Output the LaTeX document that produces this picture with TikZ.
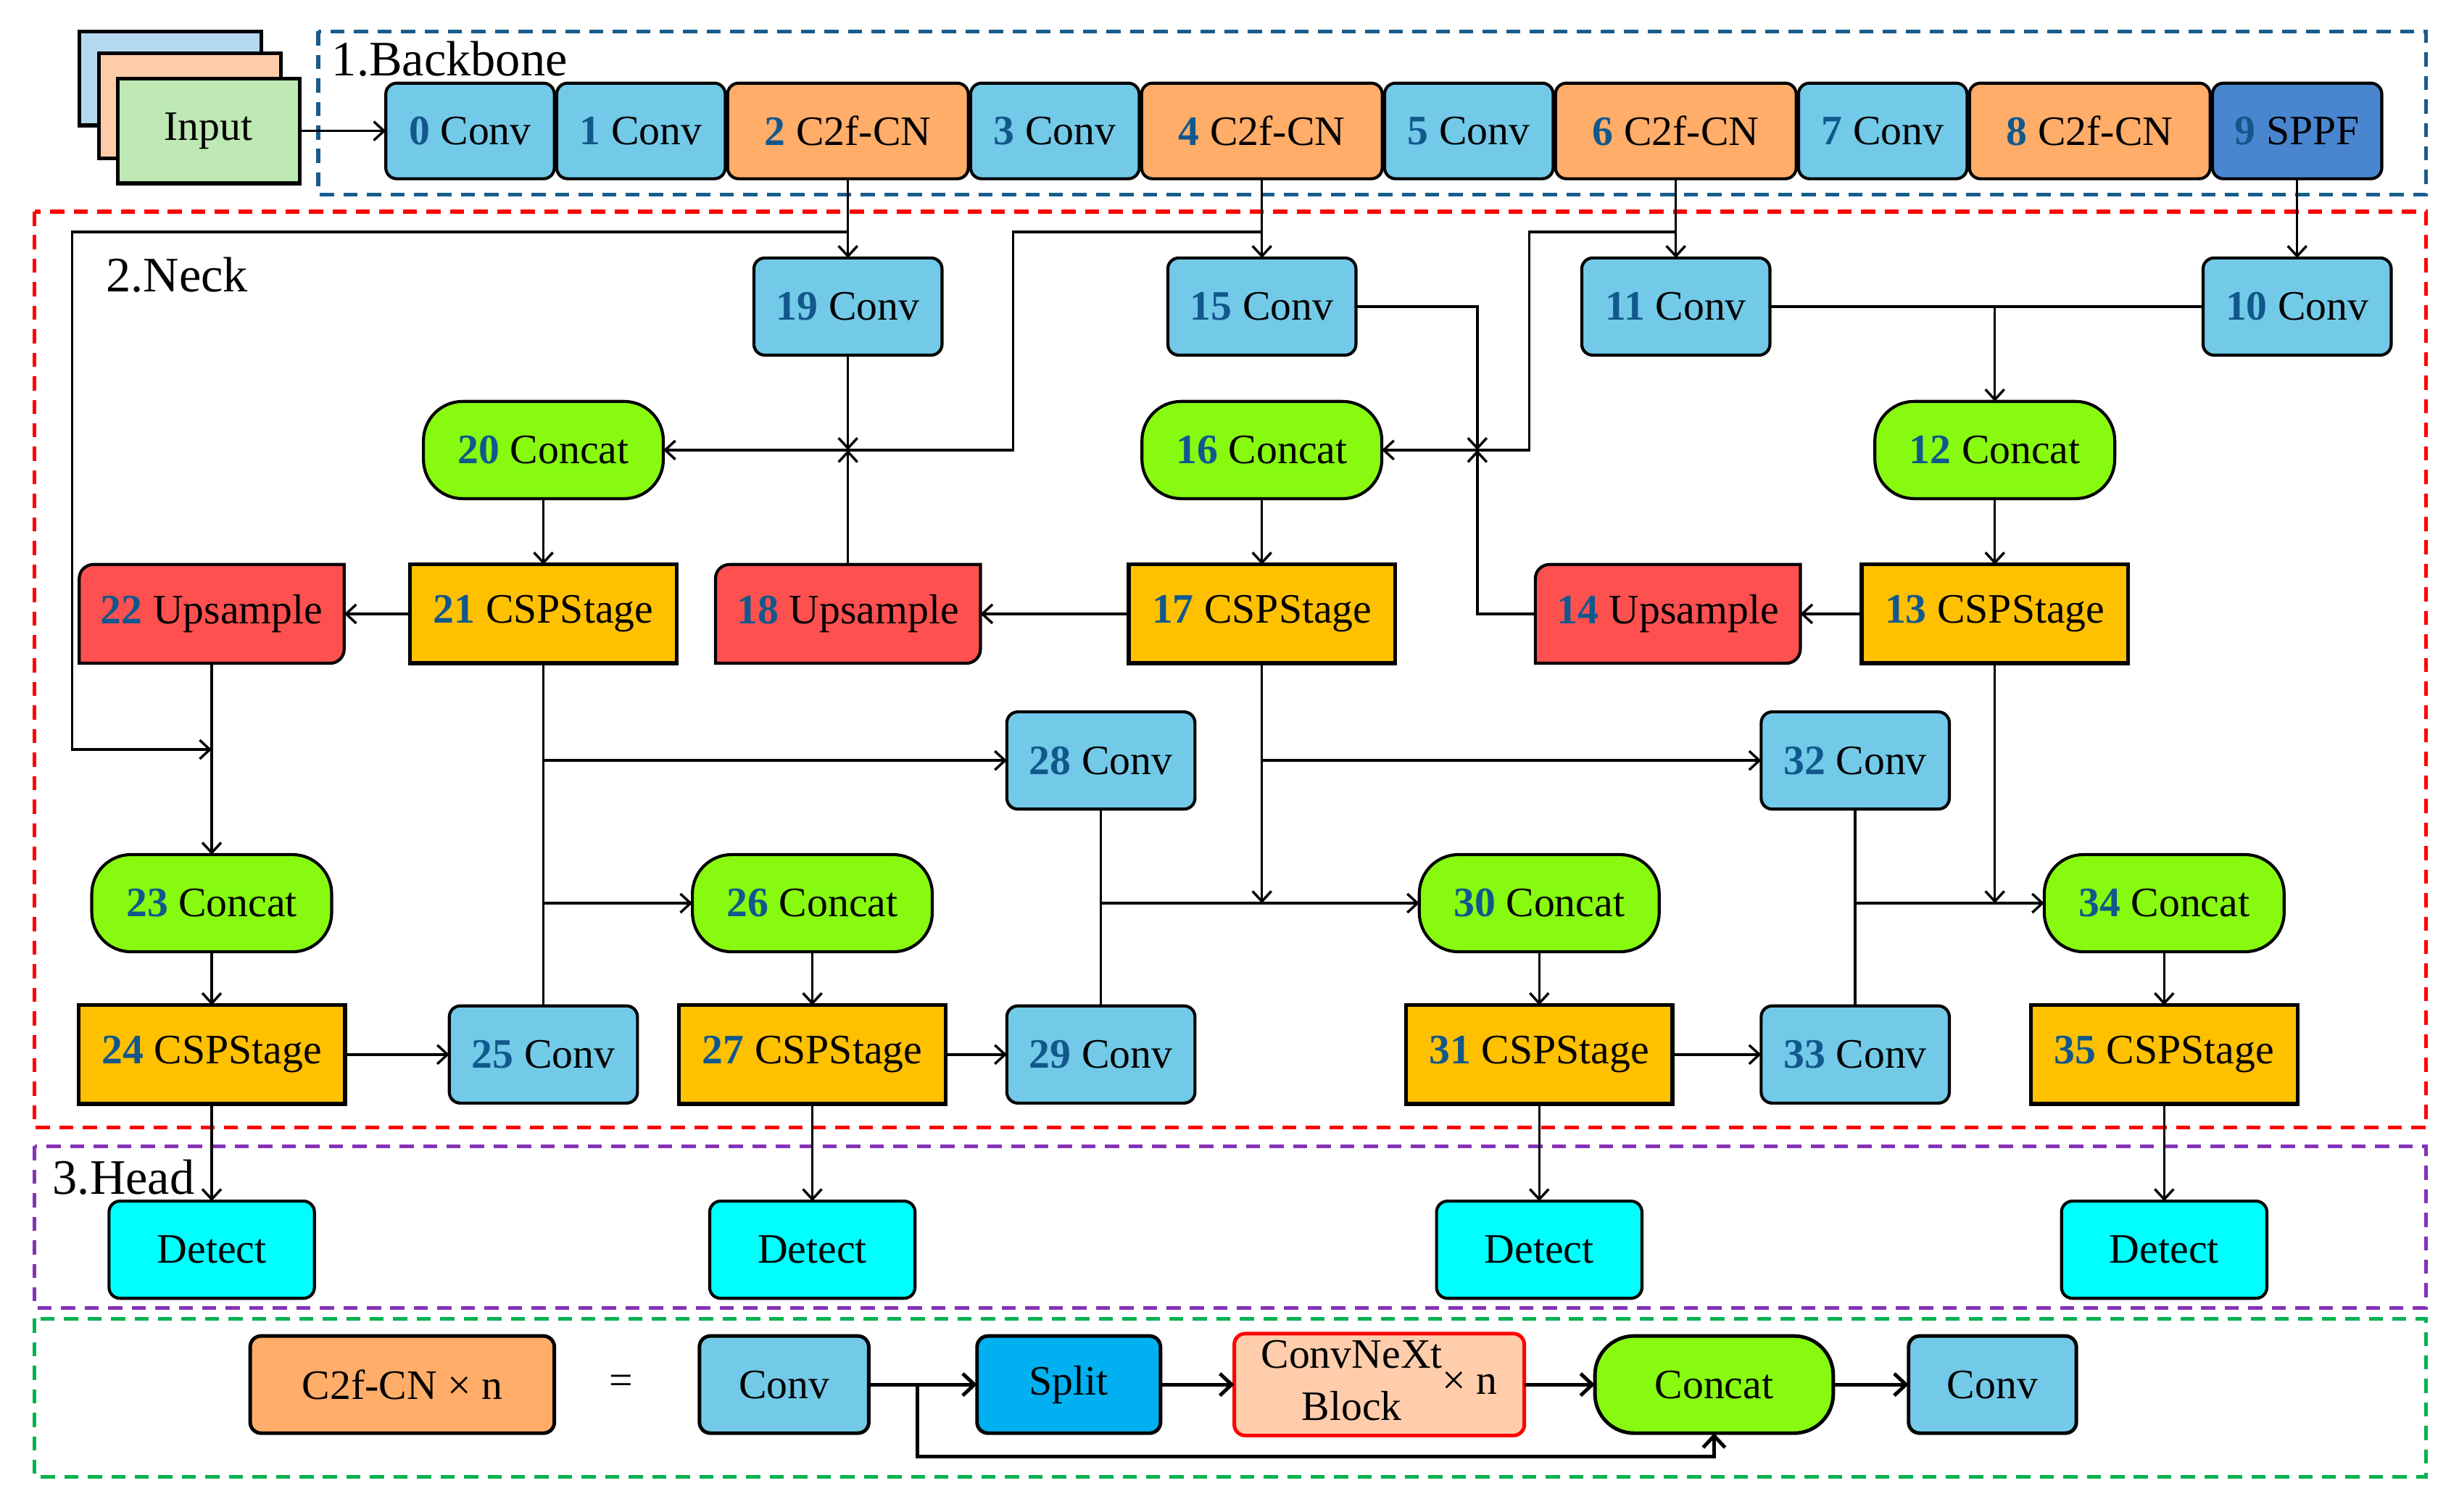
\documentclass[tikz,border=0pt]{standalone}
\usepackage{fontspec}
\setmainfont{Liberation Serif}
\usetikzlibrary{positioning,arrows.meta,backgrounds}

\definecolor{numblue}{RGB}{18,88,140}
\definecolor{convblue}{RGB}{114,202,232}
\definecolor{c2forange}{RGB}{255,173,105}
\definecolor{sppfblue}{RGB}{74,134,208}
\definecolor{concatgreen}{RGB}{135,250,16}
\definecolor{cspyellow}{RGB}{255,192,0}
\definecolor{upred}{RGB}{255,80,80}
\definecolor{detectcyan}{RGB}{0,255,255}
\definecolor{splitblue}{RGB}{0,176,240}
\definecolor{cnpeach}{RGB}{255,205,172}
\definecolor{inblue}{RGB}{180,216,240}
\definecolor{inpeach}{RGB}{255,204,170}
\definecolor{ingreen}{RGB}{190,232,180}
\definecolor{bbline}{RGB}{24,92,140}
\definecolor{headline}{RGB}{132,50,182}
\definecolor{cnline}{RGB}{0,178,80}

\newcommand{\lbl}[2]{{\bfseries\color{numblue}#1} #2}
% red box with two rounded corners (top left, bottom right)
\newcommand{\upsbox}[1]{%
  \filldraw[fill=upred, line width=1.1pt] (#1.south west) -- ([yshift=-0.18cm]#1.north west)
    arc[start angle=180, end angle=90, radius=0.18cm] -- (#1.north east)
    -- ([yshift=0.18cm]#1.south east) arc[start angle=0, end angle=-90, radius=0.18cm] -- cycle;}

\begin{document}
\begin{tikzpicture}[x=0.02cm, y=0.02cm,
    font=\fontsize{15.2}{18}\selectfont, line width=0.9pt,
    >={Straight Barb[length=0.13cm,width=0.24cm]},
    box/.style={draw, line width=1.1pt, inner sep=0pt, outer sep=0pt, minimum height=1.24cm},
    bconv/.style={box, fill=convblue, rounded corners=0.14cm, minimum width=2.15cm, minimum height=1.22cm},
    bc2f/.style={box, fill=c2forange, rounded corners=0.14cm, minimum width=3.07cm, minimum height=1.22cm},
    conv/.style={box, fill=convblue, rounded corners=0.14cm, minimum width=2.4cm},
    concat/.style={box, fill=concatgreen, rounded corners=0.5cm, minimum width=3.06cm},
    csp/.style={box, fill=cspyellow, line width=1.4pt, minimum width=3.4cm, minimum height=1.26cm},
    upsample/.style={inner sep=0pt, outer sep=0pt, minimum width=3.38cm, minimum height=1.26cm},
    detect/.style={box, fill=detectcyan, rounded corners=0.14cm, minimum width=2.62cm},
    inbox/.style={draw, line width=1.4pt, inner sep=0pt, outer sep=0pt, minimum width=2.32cm, minimum height=1.34cm},
    cbox/.style={box, line width=1.3pt, rounded corners=0.14cm},
    frame/.style={line width=1.4pt, dash pattern=on 0.18cm off 0.12cm},
    title/.style={anchor=base west, font=\fontsize{18}{20}\selectfont},
    thick arrow/.style={->, line width=1.3pt, >={Straight Barb[length=0.15cm,width=0.28cm]}}]

\useasboundingbox (0,0) rectangle (1568,-964);

% frames
\draw[frame, bbline] (203,-20) rectangle (1547,-124);
\draw[frame, red] (22,-135) rectangle (1547,-719);
\draw[frame, headline] (22,-731) rectangle (1547,-834);
\draw[frame, cnline] (22,-841) rectangle (1547,-942);
\node[title] (tback) at (205,-48.5) {1.Backbone};
\node[title] (tneck) at (61,-186) {2.Neck};
\node[title] (thead) at (27,-761.5) {3.Head};

% input
\node[inbox, fill=inblue, minimum height=1.2cm] (inB) at (108.5,-50) {};
\node[inbox, fill=inpeach] (inP) at (121,-67.5) {};
\node[inbox, fill=ingreen] (in) at (133,-83.5) {Input};

% backbone
\node[bconv] (b0) at (299.75,-83.5) {\lbl{0}{Conv}};
\node[bconv, right=0.03cm of b0] (b1) {\lbl{1}{Conv}};
\node[bc2f, right=0.03cm of b1] (b2) {\lbl{2}{C2f-CN}};
\node[bconv, right=0.03cm of b2] (b3) {\lbl{3}{Conv}};
\node[bc2f, right=0.03cm of b3] (b4) {\lbl{4}{C2f-CN}};
\node[bconv, right=0.03cm of b4] (b5) {\lbl{5}{Conv}};
\node[bc2f, right=0.03cm of b5] (b6) {\lbl{6}{C2f-CN}};
\node[bconv, right=0.03cm of b6] (b7) {\lbl{7}{Conv}};
\node[bc2f, right=0.03cm of b7] (b8) {\lbl{8}{C2f-CN}};
\node[bconv, fill=sppfblue, minimum width=2.16cm, right=0.03cm of b8] (b9) {\lbl{9}{SPPF}};

% neck
\node[conv] (n19) at (b2 |- 0,-195.5) {\lbl{19}{Conv}};
\node[conv] (n15) at (b4 |- 0,-195.5) {\lbl{15}{Conv}};
\node[conv] (n11) at (b6 |- 0,-195.5) {\lbl{11}{Conv}};
\node[conv] (n10) at (b9 |- 0,-195.5) {\lbl{10}{Conv}};

\node[concat] (n20) at (346.5,-287) {\lbl{20}{Concat}};
\node[concat] (n16) at (n15 |- n20) {\lbl{16}{Concat}};
\node[concat] (n12) at (1272,-287) {\lbl{12}{Concat}};

\node[upsample] (n22) at (135,-391.5) {\lbl{22}{Upsample}};
\node[csp] (n21) at (n20 |- n22) {\lbl{21}{CSPStage}};
\node[upsample] (n18) at (n19 |- n22) {\lbl{18}{Upsample}};
\node[csp] (n17) at (n16 |- n22) {\lbl{17}{CSPStage}};
\node[upsample] (n14) at (1063.5,-391.5) {\lbl{14}{Upsample}};
\node[csp] (n13) at (n12 |- n22) {\lbl{13}{CSPStage}};

\node[conv] (n28) at (702,-485) {\lbl{28}{Conv}};
\node[conv] (n32) at (1183,-485) {\lbl{32}{Conv}};

\node[concat] (n23) at (n22 |- 0,-576) {\lbl{23}{Concat}};
\node[concat] (n26) at (518,-576) {\lbl{26}{Concat}};
\node[concat] (n30) at (981.5,-576) {\lbl{30}{Concat}};
\node[concat] (n34) at (1380,-576) {\lbl{34}{Concat}};

\node[csp] (n24) at (n23 |- 0,-672.5) {\lbl{24}{CSPStage}};
\node[conv] (n25) at (n21 |- n24) {\lbl{25}{Conv}};
\node[csp] (n27) at (n26 |- n24) {\lbl{27}{CSPStage}};
\node[conv] (n29) at (n28 |- n24) {\lbl{29}{Conv}};
\node[csp] (n31) at (n30 |- n24) {\lbl{31}{CSPStage}};
\node[conv] (n33) at (n32 |- n24) {\lbl{33}{Conv}};
\node[csp] (n35) at (n34 |- n24) {\lbl{35}{CSPStage}};

\begin{scope}[on background layer]
  \upsbox{n22}
  \upsbox{n18}
  \upsbox{n14}
\end{scope}

% head
\node[detect] (d1) at (n24 |- 0,-797) {Detect};
\node[detect] (d2) at (n27 |- d1) {Detect};
\node[detect] (d3) at (n31 |- d1) {Detect};
\node[detect] (d4) at (n35 |- d1) {Detect};

% C2f-CN block
\node[cbox, fill=c2forange, minimum width=3.88cm] (cn) at (256.5,-883) {C2f-CN × n};
\node (eq) at (396,-883) {=};
\node[cbox, fill=convblue, minimum width=2.16cm] (c1) at (500,-883) {Conv};
\node[cbox, fill=splitblue, minimum width=2.34cm] (sp) at (681.5,-883) {Split};
\node[cbox, draw=red, fill=cnpeach, minimum width=3.7cm] (cx) at (879.5,-883)
  {\begin{tabular}{@{}c@{}}ConvNeXt\\[1pt]Block\end{tabular}× n};
\node[cbox, fill=concatgreen, rounded corners=0.5cm, minimum width=3.04cm] (cc) at (1093,-883) {Concat};
\node[cbox, fill=convblue, minimum width=2.14cm] (c2) at (1270.5,-883) {Conv};

% bend points
\coordinate (w1) at (46,-148);
\coordinate (w2) at (46,-478);
\coordinate (m4) at (646,-148);
\coordinate (m6) at (975,-148);
\coordinate (j20) at (n19 |- n20);
\coordinate (j16) at (942,-287);
\coordinate (byp) at (585,-929);

% backbone links
\draw[->] (in) -- (b0);
\draw[->] (b2) -- (n19);
\draw[->] (b4) -- (n15);
\draw[->] (b6) -- (n11);
\draw[->] (b9) -- (n10);
\draw[->] (b2.south |- w1) -- (w1) -- (w2) -- (n22 |- w2);
\draw[->] (b4.south |- m4) -- (m4) |- (n20);
\draw[->] (b6.south |- m6) -- (m6) |- (n16);

% top-down path
\draw (n11) -- (n10);
\draw[->] (n12 |- n11) -- (n12);
\draw[->] (n12) -- (n13);
\draw[->] (n13) -- (n14);
\draw[->] (n14.west) -| (j16);
\draw[->] (n15.east) -| (j16);
\draw[->] (n16) -- (n17);
\draw[->] (n17) -- (n18);
\draw[->] (n18) -- (j20);
\draw[->] (n19) -- (j20);
\draw[->] (n20) -- (n21);
\draw[->] (n21) -- (n22);
\draw[->] (n22) -- (n23);
\draw[->] (n23) -- (n24);

% bottom-up path
\draw[->] (n24) -- (n25);
\draw (n21) -- (n25);
\draw[->] (n21 |- n28) -- (n28);
\draw[->] (n21 |- n26) -- (n26);
\draw[->] (n26) -- (n27);
\draw[->] (n27) -- (n29);
\draw (n28) -- (n29);
\draw[->] (n28 |- n30) -- (n30);
\draw[->] (n17) -- (n17 |- n30);
\draw[->] (n17 |- n32) -- (n32);
\draw[->] (n30) -- (n31);
\draw[->] (n31) -- (n33);
\draw (n32) -- (n33);
\draw[->] (n32 |- n34) -- (n34);
\draw[->] (n13) -- (n13 |- n34);
\draw[->] (n34) -- (n35);

% detect heads
\draw[->] (n24) -- (d1);
\draw[->] (n27) -- (d2);
\draw[->] (n31) -- (d3);
\draw[->] (n35) -- (d4);

% C2f-CN links
\draw[thick arrow] (c1) -- (sp);
\draw[thick arrow] (sp) -- (cx);
\draw[thick arrow] (cx) -- (cc);
\draw[thick arrow] (cc) -- (c2);
\draw[thick arrow] (c1.east -| byp) -- (byp) -| (cc.south);
\end{tikzpicture}
\end{document}
